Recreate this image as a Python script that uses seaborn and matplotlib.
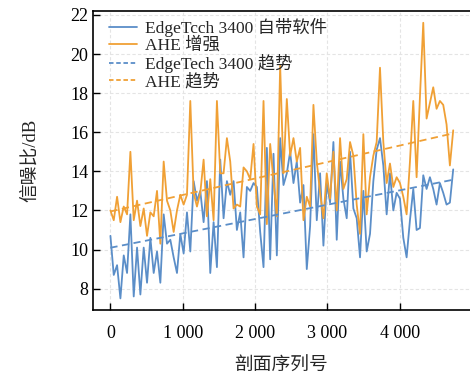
import numpy as np
import pandas as pd
import seaborn as sns
import matplotlib.pyplot as plt
from matplotlib.lines import Line2D

# 剖面序列号 (每 46 个剖面一个点)
profile_step = 46
edgetech = [10.7, 8.7, 9.2, 7.5, 9.7, 8.8, 11.8, 7.6, 10.1, 7.7,
            10.1, 8.3, 10.6, 8.8, 9.9, 8.3, 11.8, 10.3, 10.5, 9.6,
            8.8, 10.8, 9.8, 11.9, 9.9, 13.5, 12.5, 13.0, 11.4, 13.5,
            8.8, 11.4, 9.1, 14.6, 11.6, 13.5, 12.8, 13.5, 11.0, 11.9,
            9.6, 13.2, 13.0, 13.4, 13.2, 10.9, 9.1, 15.2, 9.5, 14.9,
            9.7, 15.7, 13.3, 13.9, 15.0, 13.4, 14.5, 12.4, 13.3, 9.0,
            11.2, 15.9, 11.5, 13.9, 10.2, 13.4, 12.4, 15.5, 10.5, 14.5,
            12.6, 11.6, 15.0, 12.1, 11.6, 9.6, 13.0, 9.9, 10.8, 13.5,
            15.1, 15.7, 14.3, 11.8, 13.9, 12.0, 12.9, 12.6, 10.6, 9.6,
            11.5, 13.1, 11.0, 11.1, 13.8, 13.1, 13.7, 13.1, 12.3, 13.4,
            12.9, 12.3, 12.4, 14.1]
ahe = [12.0, 11.5, 12.7, 11.4, 12.2, 11.8, 15.0, 11.5, 12.5, 11.2,
       12.1, 10.7, 11.9, 11.7, 13.0, 10.3, 14.5, 12.5, 12.0, 10.9,
       12.0, 12.8, 12.3, 12.8, 17.6, 12.9, 12.2, 12.9, 14.6, 11.7,
       13.6, 11.5, 17.6, 13.9, 13.9, 15.7, 14.5, 12.1, 12.3, 12.2,
       14.2, 14.0, 13.6, 15.4, 12.2, 11.8, 17.6, 11.3, 15.4, 13.5,
       11.7, 19.4, 13.9, 17.7, 14.8, 15.7, 14.5, 15.2, 11.5, 12.7,
       12.2, 17.4, 14.5, 12.9, 11.6, 13.9, 12.6, 15.0, 12.0, 15.7,
       13.1, 13.6, 15.5, 14.8, 12.3, 10.8, 15.9, 11.8, 13.7, 14.8,
       15.5, 19.3, 15.5, 13.4, 14.4, 13.2, 13.7, 13.4, 12.7, 11.8,
       14.5, 17.6, 13.7, 17.8, 21.6, 16.7, 17.5, 18.3, 17.2, 17.6,
       17.4, 16.4, 14.3, 16.1]
profile = np.arange(len(edgetech)) * profile_step

labels = ['EdgeTcch 3400 自带软件', 'AHE 增强', 'EdgeTech 3400 趋势', 'AHE 趋势']
blue = '#5b8ec8'
orange = '#f0a035'

xticks = [0, 1000, 2000, 3000, 4000]
xtick_labels = ['0', '1 000', '2 000', '3 000', '4 000']
yticks = [8, 10, 12, 14, 16, 18, 20, 22]

df = pd.DataFrame({'profile': profile, 'edgetech': edgetech, 'ahe': ahe})
df['edgetech_fit'] = np.polyval(np.polyfit(df['profile'], df['edgetech'], 1), df['profile'])
df['ahe_fit'] = np.polyval(np.polyfit(df['profile'], df['ahe'], 1), df['profile'])

sns.set_style('ticks')
plt.rcParams['font.family'] = ['Liberation Serif', 'Noto Sans CJK SC']

fig = plt.figure(figsize=(4.7, 3.81), dpi=100)
ax = fig.add_axes([0.198, 0.186, 0.802, 0.785])

sns.lineplot(data=df, x='profile', y='edgetech', color=blue, lw=1.3, ax=ax)
sns.lineplot(data=df, x='profile', y='ahe', color=orange, lw=1.3, ax=ax)
sns.lineplot(data=df, x='profile', y='edgetech_fit', color=blue, lw=1.3,
             linestyle=(0, (4, 2.5)), ax=ax)
sns.lineplot(data=df, x='profile', y='ahe_fit', color=orange, lw=1.3,
             linestyle=(0, (4, 2.5)), ax=ax)

ax.set_xlim(-240, 4970)
ax.set_ylim(6.9, 22.2)
ax.set_xticks(xticks)
ax.set_xticklabels(xtick_labels)
ax.set_yticks(yticks)
ax.tick_params(direction='in', length=5, width=1, labelsize=13, colors='black')
ax.tick_params(axis='x', pad=11)
ax.grid(True, color='#e4e4e4', linestyle=(0, (3, 2)), lw=0.8)
ax.spines['right'].set_visible(False)
for s in ['left', 'bottom', 'top']:
    ax.spines[s].set_linewidth(1.2)
    ax.spines[s].set_color('black')

ax.set_xlabel('剖面序列号', fontsize=13.5, labelpad=11)
ax.set_ylabel('信噪比/dB', fontsize=13.5, labelpad=22)

handles = [Line2D([], [], color=blue, lw=1.3),
           Line2D([], [], color=orange, lw=1.3),
           Line2D([], [], color=blue, lw=1.3, linestyle=(0, (2.5, 1.5))),
           Line2D([], [], color=orange, lw=1.3, linestyle=(0, (2.5, 1.5)))]
ax.legend(handles, labels, loc='upper left', frameon=False, fontsize=12.5,
          handlelength=1.6, handletextpad=0.45, labelspacing=0.02,
          borderaxespad=0.0, bbox_to_anchor=(0.025, 1.0))

fig.savefig('out.png', dpi=100)
